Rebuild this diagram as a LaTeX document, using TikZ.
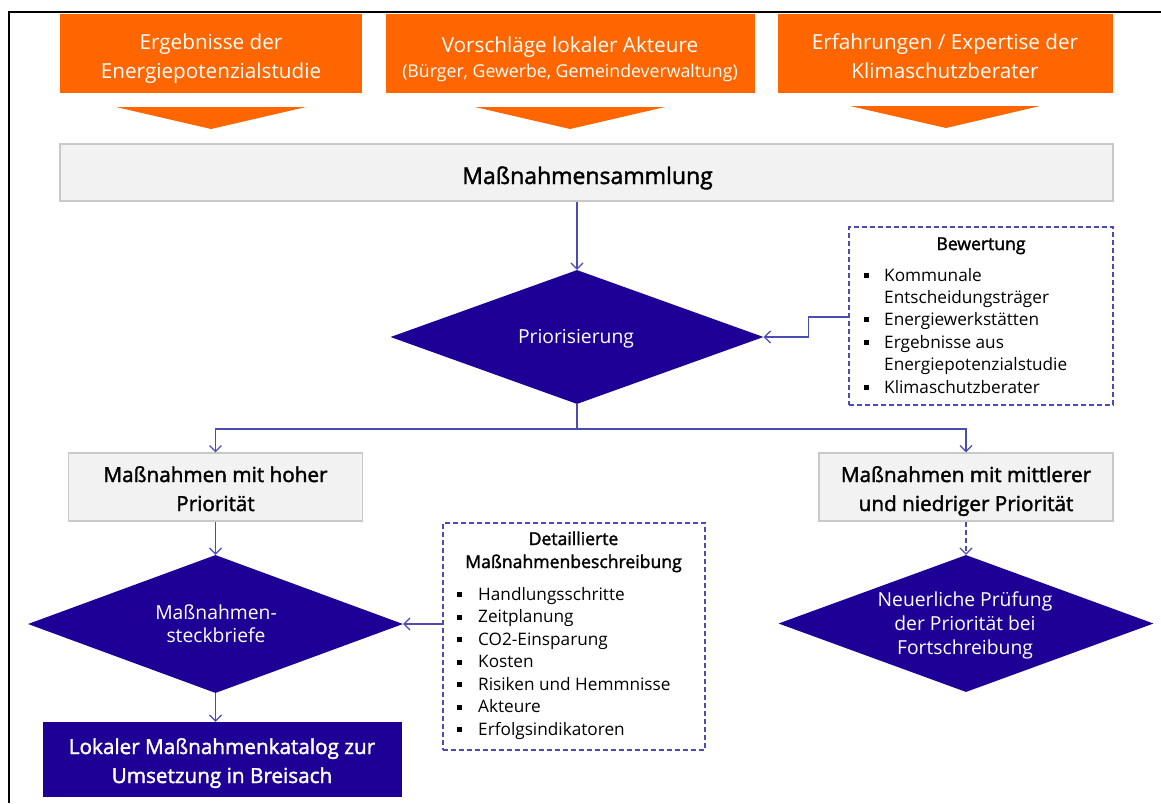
\documentclass[tikz,border=0pt]{standalone}
\usepackage{fontspec}
\setmainfont{Open Sans}
\newfontfamily\semi{Open Sans}[FakeBold=1.8]
\usetikzlibrary{shapes.geometric,arrows.meta}
\definecolor{orng}{HTML}{FF6600}
\definecolor{navy}{HTML}{1E0096}
\definecolor{linkc}{HTML}{4B4BB4}
\definecolor{boxgray}{HTML}{F2F2F2}
\definecolor{boxline}{HTML}{C9C9C9}
\tikzset{
  orangebox/.style={fill=orng, draw=none, inner sep=0pt},
  graybox/.style={fill=boxgray, draw=boxline, line width=1.3pt, inner sep=0pt},
  dia/.style={diamond, fill=navy, draw=none, inner sep=0pt},
  navybox/.style={fill=navy, draw=none, inner sep=0pt},
  dashbox/.style={draw=linkc, dash pattern=on 5pt off 3pt, line width=1.1pt, fill=none, inner sep=0pt},
  lbl/.style={inner sep=0pt, anchor=base},
  wtxt/.style={lbl, text=white, font=\fontsize{20.7}{29}\selectfont},
  wsmall/.style={lbl, text=white, font=\fontsize{17.7}{25}\selectfont},
  dtxt/.style={lbl, text=white, font=\fontsize{19.3}{24}\selectfont},
  gtxt/.style={lbl, font=\semi\fontsize{20.7}{29}\selectfont},
  ktxt/.style={lbl, text=white, font=\semi\fontsize{20.7}{29}\selectfont},
  ttxt/.style={lbl, font=\semi\fontsize{17.6}{23}\selectfont},
  ltxt/.style={inner sep=0pt, anchor=base west, font=\fontsize{17.2}{23}\selectfont},
  link/.style={draw=linkc, line width=1.2pt, -{Straight Barb[length=6pt,width=12pt]}},
  plainlink/.style={draw=linkc, line width=1.2pt},
}
\begin{document}
\begin{tikzpicture}[x=1pt,y=-1pt]
\useasboundingbox (0,0) rectangle (1161,803);
\fill[white] (0,0) rectangle (1161,803);
\draw[line width=2pt] (9,803) -- (9,12) -- (1161,12);

% top orange sources
\node[orangebox, minimum width=302pt, minimum height=79pt] (src1) at (211,53.5) {};
\node[wtxt] (src1a) at (211,49) {Ergebnisse der};
\node[wtxt] (src1b) at (211,78) {Energiepotenzialstudie};
\node[orangebox, minimum width=369pt, minimum height=79pt] (src2) at (570.5,53.5) {};
\node[wtxt] (src2a) at (570,52) {Vorschläge lokaler Akteure};
\node[wsmall] (src2b) at (570,77) {(Bürger, Gewerbe, Gemeindeverwaltung)};
\node[orangebox, minimum width=335pt, minimum height=79pt] (src3) at (945.5,53.5) {};
\node[wtxt] (src3a) at (945,49) {Erfahrungen / Expertise der};
\node[wtxt] (src3b) at (945,78) {Klimaschutzberater};
\fill[orng] (116,107) -- (306,107) -- (211,129) -- cycle;
\fill[orng] (475,107) -- (665,107) -- (570,129) -- cycle;
\fill[orng] (850,106) -- (1040,106) -- (946,128) -- cycle;

% collection
\node[graybox, minimum width=1053pt, minimum height=57pt] (samml) at (586.5,172.5) {};
\node[lbl, font=\semi\fontsize{23}{29}\selectfont] (sammlt) at (587.5,184) {Maßnahmensammlung};

% prioritisation
\node[dia, minimum width=373pt, minimum height=134pt] (prio) at (577,337) {};
\node[dtxt] (priot) at (576,343) {Priorisierung};
\draw[link] (samml.south -| prio.north) -- (prio.north);

% evaluation box
\node[dashbox, minimum width=264pt, minimum height=178pt] (bew) at (981,316) {};
\node[ttxt] (bewt) at (981,250) {Bewertung};
\foreach \y/\t/\b [count=\i] in {281/Kommunale/1, 303/Entscheidungsträger/0, 325/Energiewerkstätten/1,
    348/Ergebnisse aus/1, 370/Energiepotenzialstudie/0, 393/Klimaschutzberater/1}{
  \node[ltxt] (bew\i) at (884,\y) {\t};
  \ifnum\b=1 \fill (864,{\y-8}) rectangle ++(5,5); \fi
}
\draw[link] (bew.west |- 0,317) -- ++(-40,0) |- (prio.east);

% split
\node[graybox, minimum width=294pt, minimum height=68pt] (hoch) at (215.5,487) {};
\node[gtxt] (hocha) at (215.5,482) {Maßnahmen mit hoher};
\node[gtxt] (hochb) at (215.5,511) {Priorität};
\node[graybox, minimum width=294pt, minimum height=68pt] (mittel) at (966,487) {};
\node[gtxt] (mittela) at (966,482) {Maßnahmen mit mittlerer};
\node[gtxt] (mittelb) at (966,511) {und niedriger Priorität};
\coordinate (split) at (577,429);
\draw[plainlink] (prio.south) -- (split);
\draw[link] (split) -| (hoch.north);
\draw[link] (split) -| (mittel.north);

% left branch
\node[dia, minimum width=375pt, minimum height=138pt] (steck) at (215.5,624) {};
\node[dtxt] (stecka) at (216,619) {Maßnahmen-};
\node[dtxt] (steckb) at (216,642) {steckbriefe};
\draw[link] (hoch.south) -- (steck.north);
\node[dashbox, minimum width=262pt, minimum height=227pt] (det) at (574,636.5) {};
\node[ttxt] (deta) at (573.5,545) {Detaillierte};
\node[ttxt] (detb) at (573.5,568) {Maßnahmenbeschreibung};
\foreach \t [count=\i] in {Handlungsschritte, Zeitplanung, CO2-Einsparung, Kosten,
    Risiken und Hemmnisse, Akteure, Erfolgsindikatoren}{
  \node[ltxt] (det\i) at (478,{600+22.5*(\i-1)}) {\t};
  \fill (457,{600+22.5*(\i-1)-8}) rectangle ++(5,5);
}
\draw[link] (det.west |- steck.east) -- (steck.east);
\node[navybox, minimum width=359pt, minimum height=75pt] (kat) at (222.5,759.5) {};
\node[ktxt] (kata) at (222,754) {Lokaler Maßnahmenkatalog zur};
\node[ktxt] (katb) at (222,783) {Umsetzung in Breisach};
\draw[link] (steck.south) -- (steck.south |- kat.north);

% right branch
\node[dia, minimum width=375pt, minimum height=137pt] (neu) at (966,623.5) {};
\node[dtxt] (neua) at (965,606) {Neuerliche Prüfung};
\node[dtxt] (neub) at (965,630) {der Priorität bei};
\node[dtxt] (neuc) at (965,654) {Fortschreibung};
\draw[link, dash pattern=on 5pt off 3pt] (mittel.south) -- (neu.north);
\end{tikzpicture}
\end{document}
